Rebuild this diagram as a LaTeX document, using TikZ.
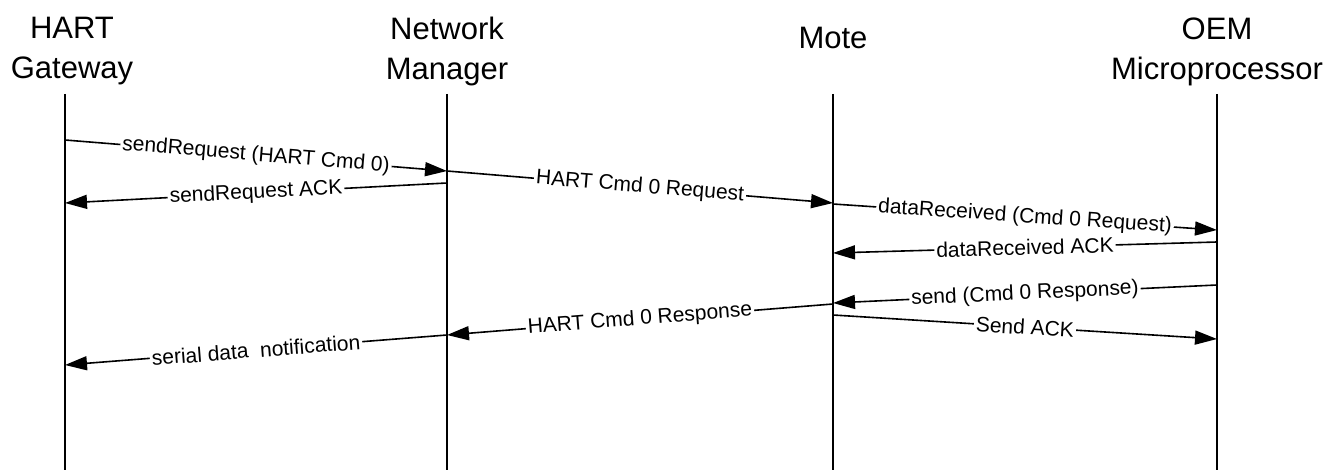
\documentclass[tikz,border=0pt]{standalone}
\usepackage{fontspec}
\setmainfont{Liberation Sans}
\usetikzlibrary{arrows.meta}
\tikzset{
  actor/.style={align=center, inner sep=0pt, anchor=north, font=\fontsize{15.5}{20}\selectfont},
  lifeline/.style={line width=1.3pt},
  msg/.style={line width=0.8pt, -{Triangle[length=11pt, width=7pt]}},
  msglabel/.style={sloped, fill=white, inner sep=1pt, pos=0.5, font=\fontsize{10.5}{12}\selectfont},
}
\begin{document}
\begin{tikzpicture}[x=0.5pt, y=-0.5pt]
    \useasboundingbox (0,0) rectangle (1343,470);
    \node[actor] (gw) at (72,17) {HART\\Gateway};
    \node[actor] (nm) at (447,17) {Network\\Manager};
    \node[actor] (mote) at (833,27) {Mote};
    \node[actor] (oem) at (1217,17) {OEM\\Microprocessor};

    \coordinate (gwtop) at (65,94);
    \coordinate (nmtop) at (447,94);
    \coordinate (motetop) at (833,94);
    \coordinate (oemtop) at (1217,94);

    \draw[lifeline] (gwtop) -- (gwtop |- 0,470);
    \draw[lifeline] (nmtop) -- (nmtop |- 0,470);
    \draw[lifeline] (motetop) -- (motetop |- 0,470);
    \draw[lifeline] (oemtop) -- (oemtop |- 0,470);

    \draw[msg] (gwtop |- 0,140) -- node[msglabel] {sendRequest (HART Cmd 0)} (nmtop |- 0,171);
    \draw[msg] (nmtop |- 0,183) -- node[msglabel] {sendRequest ACK} (gwtop |- 0,203);
    \draw[msg] (nmtop |- 0,171) -- node[msglabel] {HART Cmd 0 Request} (motetop |- 0,203);
    \draw[msg] (motetop |- 0,204) -- node[msglabel] {dataReceived (Cmd 0 Request)} (oemtop |- 0,230);
    \draw[msg] (oemtop |- 0,242) -- node[msglabel] {dataReceived ACK} (motetop |- 0,253);
    \draw[msg] (oemtop |- 0,285) -- node[msglabel] {send (Cmd 0 Response)} (motetop |- 0,303);
    \draw[msg] (motetop |- 0,304) -- node[msglabel] {HART Cmd 0 Response} (nmtop |- 0,335);
    \draw[msg] (motetop |- 0,315) -- node[msglabel] {Send ACK} (oemtop |- 0,339);
    \draw[msg] (nmtop |- 0,335) -- node[msglabel] {serial data\ \ notification} (gwtop |- 0,365);
\end{tikzpicture}
\end{document}
